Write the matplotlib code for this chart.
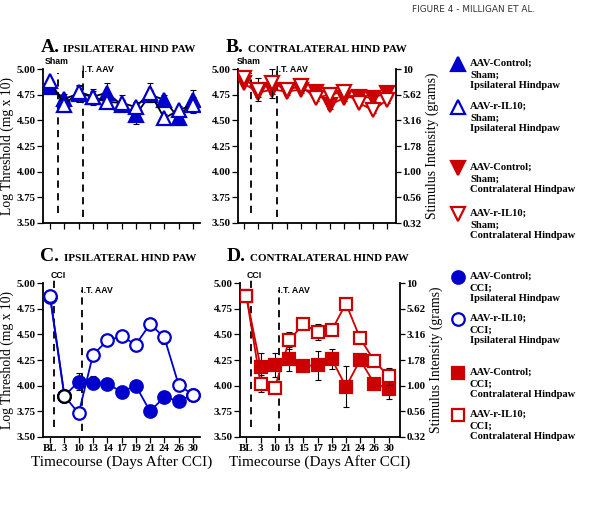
import matplotlib
matplotlib.use('Agg')
import matplotlib.pyplot as plt

plt.rcParams['font.family'] = ['Liberation Serif', 'DejaVu Serif']
plt.rcParams['font.weight'] = 'bold'

W, H = 600, 524
BLUE = '#0000CC'
RED = '#CC0000'

# ---------------- data ----------------
days_ipsi = ['BL', '3', '10', '13', '14', '17', '19', '21', '24', '26', '30']
days_contra = ['BL', '3', '10', '13', '15', '17', '19', '21', '24', '26', '30']
yticks = [3.50, 3.75, 4.00, 4.25, 4.50, 4.75, 5.00]
grams_labels = ['0.32', '0.56', '1.00', '1.78', '3.16', '5.62', '10']

# A: Sham, ipsilateral
a_ctrl = [4.82, 4.71, 4.76, 4.73, 4.77, 4.65, 4.55, 4.75, 4.70, 4.52, 4.70]
a_ctrl_err = [0.02, 0.05, 0.08, 0.06, 0.09, 0.05, 0.09, 0.05, 0.05, 0.07, 0.10]
a_il10 = [4.88, 4.65, 4.78, 4.73, 4.68, 4.67, 4.63, 4.77, 4.52, 4.60, 4.65]
a_il10_err = [0.02, 0.07, 0.05, 0.08, 0.05, 0.08, 0.05, 0.09, 0.04, 0.04, 0.08]

# B: Sham, contralateral
b_ctrl = [4.86, 4.77, 4.80, 4.78, 4.80, 4.78, 4.65, 4.72, 4.73, 4.72, 4.77]
b_ctrl_err = [0.02, 0.04, 0.04, 0.03, 0.03, 0.03, 0.04, 0.03, 0.05, 0.03, 0.05]
b_il10 = [4.91, 4.80, 4.86, 4.80, 4.83, 4.72, 4.75, 4.78, 4.67, 4.60, 4.70]
b_il10_err = [0.02, 0.11, 0.14, 0.03, 0.03, 0.03, 0.03, 0.03, 0.03, 0.03, 0.03]

# C: CCI, ipsilateral
c_ctrl = [4.86, 3.90, 4.04, 4.03, 4.02, 3.94, 4.00, 3.75, 3.89, 3.85, 3.91]
c_ctrl_err = [0.02, 0.05, 0.08, 0.06, 0.03, 0.05, 0.04, 0.03, 0.05, 0.04, 0.06]
c_il10 = [4.87, 3.90, 3.73, 4.30, 4.44, 4.48, 4.40, 4.60, 4.47, 4.01, 3.91]
c_il10_err = [0.02, 0.04, 0.03, 0.03, 0.03, 0.03, 0.03, 0.03, 0.06, 0.05, 0.06]

# D: CCI, contralateral
d_ctrl = [4.87, 4.18, 4.20, 4.26, 4.19, 4.20, 4.26, 3.99, 4.25, 4.02, 3.97]
d_ctrl_err = [0.02, 0.14, 0.12, 0.12, 0.03, 0.14, 0.10, 0.20, 0.05, 0.04, 0.10]
d_il10 = [4.87, 4.02, 3.98, 4.44, 4.60, 4.52, 4.54, 4.80, 4.46, 4.24, 4.09]
d_il10_err = [0.02, 0.08, 0.03, 0.08, 0.03, 0.08, 0.03, 0.03, 0.03, 0.03, 0.08]

legend_top = [
    ('^', BLUE, True, 'AAV-Control;\nSham;\nIpsilateral Hindpaw'),
    ('^', BLUE, False, 'AAV-r-IL10;\nSham;\nIpsilateral Hindpaw'),
    ('v', RED, True, 'AAV-Control;\nSham;\nContralateral Hindpaw'),
    ('v', RED, False, 'AAV-r-IL10;\nSham;\nContralateral Hindpaw'),
]
legend_bot = [
    ('o', BLUE, True, 'AAV-Control;\nCCI;\nIpsilateral Hindpaw'),
    ('o', BLUE, False, 'AAV-r-IL10;\nCCI;\nIpsilateral Hindpaw'),
    ('s', RED, True, 'AAV-Control;\nCCI;\nContralateral Hindpaw'),
    ('s', RED, False, 'AAV-r-IL10;\nCCI;\nContralateral Hindpaw'),
]

# ---------------- figure ----------------
fig = plt.figure(figsize=(W / 100, H / 100), dpi=100)


def rect(l, t, r, b):
    return [l / W, 1 - b / H, (r - l) / W, (b - t) / H]


def setup(ax, labels, show_xlabels, xlim, right_axis):
    ax.set_xlim(*xlim)
    ax.set_ylim(3.5, 5.0)
    ax.set_yticks(yticks)
    ax.set_yticklabels([f'{v:.2f}' for v in yticks])
    ax.set_xticks(range(len(labels)))
    ax.set_xticklabels(labels if show_xlabels else [])
    ax.spines['top'].set_visible(False)
    ax.spines['right'].set_visible(False)
    for s in ['left', 'bottom']:
        ax.spines[s].set_linewidth(1.3)
    ax.tick_params(direction='out', length=4, width=0.9, labelsize=7.8, pad=1.2)
    ax.patch.set_visible(False)
    if right_axis:
        tw = ax.twinx()
        tw.set_ylim(3.5, 5.0)
        tw.set_yticks(yticks)
        tw.set_yticklabels(grams_labels)
        tw.spines['top'].set_visible(False)
        tw.spines['left'].set_visible(False)
        tw.spines['bottom'].set_visible(False)
        tw.spines['right'].set_linewidth(1.3)
        tw.tick_params(direction='out', length=3.5, width=0.9, labelsize=7.8, pad=1.2)
        tw.set_ylabel('Stimulus Intensity (grams)', fontsize=9.8, labelpad=3)
    else:
        ax.set_ylabel('Log Threshold (mg x 10)', fontsize=9.8, labelpad=2)


def series(ax, y, err, marker, color, filled, lc, ms, z):
    x = list(range(len(y)))
    ax.errorbar(x, y, yerr=err, fmt='none', ecolor='black', elinewidth=0.8,
                capsize=2.3, capthick=0.8, zorder=z - 1)
    ax.plot(x, y, color=lc, lw=1.3, marker=marker, ms=ms,
            mfc=color if filled else 'white', mec=color, mew=1.6, zorder=z)


def vlines(ax, x1, x2, lab1, y1top, y2top, lab1_dx, lab2_dy):
    ax.plot([x1, x1], [3.6, y1top], ls=(0, (4, 3)), color='black', lw=1.3, clip_on=False)
    ax.plot([x2, x2], [3.56, y2top], ls=(0, (4, 3)), color='black', lw=1.3, clip_on=False)
    sans = dict(family=['Liberation Sans', 'DejaVu Sans'], weight='bold', fontsize=6.3)
    ax.text(x1 + lab1_dx, 5.03, lab1, ha='left', va='bottom', **sans)
    ax.text(x2 - 0.05, 5.0 + lab2_dy, 'I.T. AAV', ha='left', va='center', **sans)


axA = fig.add_axes(rect(43, 69, 200, 223))
axB = fig.add_axes(rect(238, 69, 396, 223))
axC = fig.add_axes(rect(43, 283, 200, 437))
axD = fig.add_axes(rect(240, 283, 400, 437))

setup(axA, days_ipsi, False, (-0.5, 10.5), False)
setup(axB, days_contra, False, (-0.4, 10.6), True)
setup(axC, days_ipsi, True, (-0.5, 10.5), False)
setup(axD, days_contra, True, (-0.45, 10.8), True)

# A
series(axA, a_ctrl, a_ctrl_err, '^', BLUE, True, 'black', 10, 5)
series(axA, a_il10, a_il10_err, '^', BLUE, False, 'black', 10, 6)
vlines(axA, 0.54, 2.29, 'Sham', 4.96, 5.04, -0.95, 0.0)
# B
series(axB, b_ctrl, b_ctrl_err, 'v', RED, True, RED, 10, 5)
series(axB, b_il10, b_il10_err, 'v', RED, False, RED, 10, 6)
vlines(axB, 0.49, 2.3, 'Sham', 4.96, 5.0, -0.95, 0.0)
# C
series(axC, c_ctrl, c_ctrl_err, 'o', BLUE, True, BLUE, 9, 5)
series(axC, c_il10, c_il10_err, 'o', BLUE, False, BLUE, 9, 6)
axC.plot([1], [c_il10[1]], 'o', ms=9, mfc='white', mec='black', mew=1.6, zorder=7)
vlines(axC, 0.3, 2.2, 'CCI', 5.04, 4.93, -0.3, -0.07)
# D
series(axD, d_ctrl, d_ctrl_err, 's', RED, True, RED, 8.5, 5)
series(axD, d_il10, d_il10_err, 's', RED, False, RED, 8.5, 6)
vlines(axD, 0.35, 2.3, 'CCI', 5.04, 4.93, -0.3, -0.07)

axC.set_xlabel('Timecourse (Days After CCI)', fontsize=11, labelpad=1)
axD.set_xlabel('Timecourse (Days After CCI)', fontsize=11, labelpad=1)

# titles
def title(xl, xt, yb, letter, text):
    fig.text(xl / W, 1 - yb / H, letter, fontsize=14, ha='left', va='baseline')
    fig.text(xt / W, 1 - yb / H, text, fontsize=8, ha='left', va='baseline')

title(41, 63, 52, 'A.', 'IPSILATERAL HIND PAW')
title(226, 248, 52, 'B.', 'CONTRALATERAL HIND PAW')
title(40, 64, 261, 'C.', 'IPSILATERAL HIND PAW')
title(227, 250, 261, 'D.', 'CONTRALATERAL HIND PAW')

fig.text(412 / W, 1 - 10 / H, 'FIGURE 4 - MILLIGAN ET AL.', fontsize=6.4,
         family=['DejaVu Sans'], weight='normal', color='#333333', ha='left', va='center')

# legends in pixel overlay
ov = fig.add_axes([0, 0, 1, 1])
ov.set_xlim(0, W)
ov.set_ylim(H, 0)
ov.axis('off')
ov.patch.set_visible(False)

leg_top_y = [64, 107, 168, 214]
leg_bot_y = [277, 319, 373, 415]
for items, ys in ((legend_top, leg_top_y), (legend_bot, leg_bot_y)):
    for (m, c, filled, txt), y in zip(items, ys):
        ms = {'^': 10, 'v': 10, 'o': 9, 's': 8.5}[m]
        ov.plot([458], [y], marker=m, ms=ms, mfc=c if filled else 'white', mec=c, mew=1.6)
        ov.text(470, y - 5, txt, fontsize=7.6, ha='left', va='top', linespacing=1.3)

fig.savefig('out.png', dpi=100)
